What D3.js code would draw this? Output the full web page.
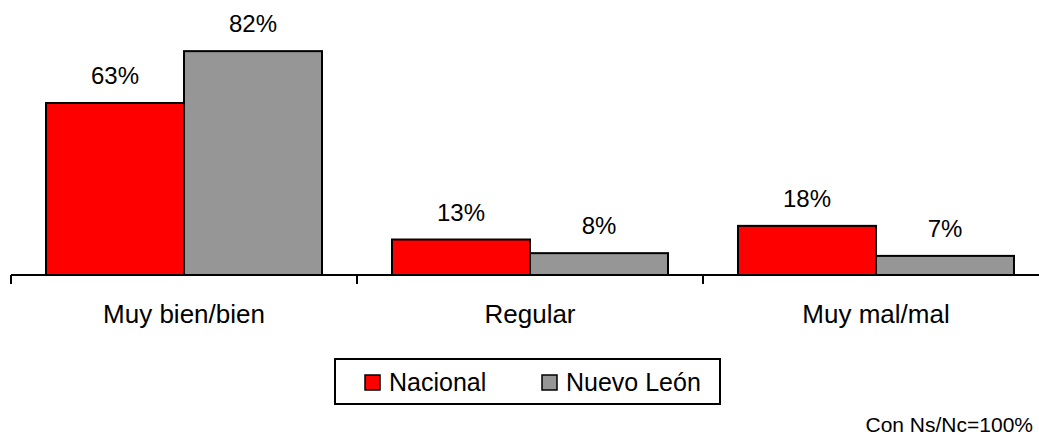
<!DOCTYPE html>
<html>
<head>
<meta charset="utf-8">
<script src="https://cdn.jsdelivr.net/npm/d3@7"></script>
<style>
  body { margin: 0; background: #fff; }
  text { font-family: "Liberation Sans", Arial, sans-serif; fill: #000; }
</style>
</head>
<body>
<div id="chart"></div>
<script>
"use strict";

var categories = ["Muy bien/bien", "Regular", "Muy mal/mal"];
var seriesNames = ["Nacional", "Nuevo León"];
var nacional = [63, 13, 18];
var nuevoLeon = [82, 8, 7];
var note = "Con Ns/Nc=100%";

var colors = { "Nacional": "#ff0000", "Nuevo León": "#969696" };

var width = 1039,
  height = 435,
  baseline = 275;

var data = categories.map(function(c, i) {
  return { category: c, values: [
    { series: "Nacional", value: nacional[i] },
    { series: "Nuevo León", value: nuevoLeon[i] }
  ] };
});

var svg = d3
  .select("#chart")
  .append("svg")
  .attr("width", width)
  .attr("height", height);

var x = d3
  .scaleBand()
  .domain(categories)
  .range([11, 1049])
  .paddingInner(0.2023)
  .paddingOuter(0.1012);

var xs = d3
  .scaleBand()
  .domain(seriesNames)
  .range([0, x.bandwidth()]);

var y = d3.scaleLinear().domain([0, 100]).range([baseline, 2]);

var groups = svg
  .selectAll("g.group")
  .data(data)
  .enter()
  .append("g")
  .attr("class", "group")
  .attr("transform", function(d) {
    return "translate(" + x(d.category) + ",0)";
  });

groups
  .selectAll("rect")
  .data(function(d) { return d.values; })
  .enter()
  .append("rect")
  .attr("x", function(d) { return xs(d.series); })
  .attr("y", function(d) { return y(d.value); })
  .attr("width", xs.bandwidth())
  .attr("height", function(d) { return baseline - y(d.value); })
  .attr("fill", function(d) { return colors[d.series]; })
  .attr("stroke", "#000")
  .attr("stroke-width", 2);

groups
  .selectAll("text.val")
  .data(function(d) { return d.values; })
  .enter()
  .append("text")
  .attr("class", "val")
  .attr("x", function(d) { return xs(d.series) + xs.bandwidth() / 2; })
  .attr("y", function(d) { return y(d.value) - 19; })
  .attr("text-anchor", "middle")
  .style("font-size", "24px")
  .text(function(d) { return d.value + "%"; });

// axis: line plus ticks between categories
var step = x.step();
var tickPos = d3.range(categories.length + 1).map(function(i) {
  return 11 + i * step;
});

svg
  .append("line")
  .attr("x1", 11)
  .attr("x2", width)
  .attr("y1", baseline)
  .attr("y2", baseline)
  .attr("stroke", "#000")
  .attr("stroke-width", 2);

svg
  .selectAll("line.tick")
  .data(tickPos)
  .enter()
  .append("line")
  .attr("class", "tick")
  .attr("x1", function(d) { return d; })
  .attr("x2", function(d) { return d; })
  .attr("y1", baseline)
  .attr("y2", baseline + 9)
  .attr("stroke", "#000")
  .attr("stroke-width", 2);

svg
  .selectAll("text.cat")
  .data(categories)
  .enter()
  .append("text")
  .attr("class", "cat")
  .attr("x", function(d) { return x(d) + x.bandwidth() / 2; })
  .attr("y", 323)
  .attr("text-anchor", "middle")
  .style("font-size", "26px")
  .text(function(d) { return d; });

// legend
var legend = svg.append("g").attr("transform", "translate(335,359)");

legend
  .append("rect")
  .attr("width", 385)
  .attr("height", 45)
  .attr("fill", "#fff")
  .attr("stroke", "#000")
  .attr("stroke-width", 2);

var legendX = [30, 207];

var items = legend
  .selectAll("g.item")
  .data(seriesNames)
  .enter()
  .append("g")
  .attr("class", "item")
  .attr("transform", function(d, i) {
    return "translate(" + legendX[i] + ",16)";
  });

items
  .append("rect")
  .attr("width", 15)
  .attr("height", 15)
  .attr("fill", function(d) { return colors[d]; })
  .attr("stroke", "#000")
  .attr("stroke-width", 1.5);

items
  .append("text")
  .attr("x", 24)
  .attr("y", 16)
  .style("font-size", "25px")
  .text(function(d) { return d; });

svg
  .append("text")
  .attr("x", 1033)
  .attr("y", 432)
  .attr("text-anchor", "end")
  .style("font-size", "21px")
  .text(note);
</script>
</body>
</html>
